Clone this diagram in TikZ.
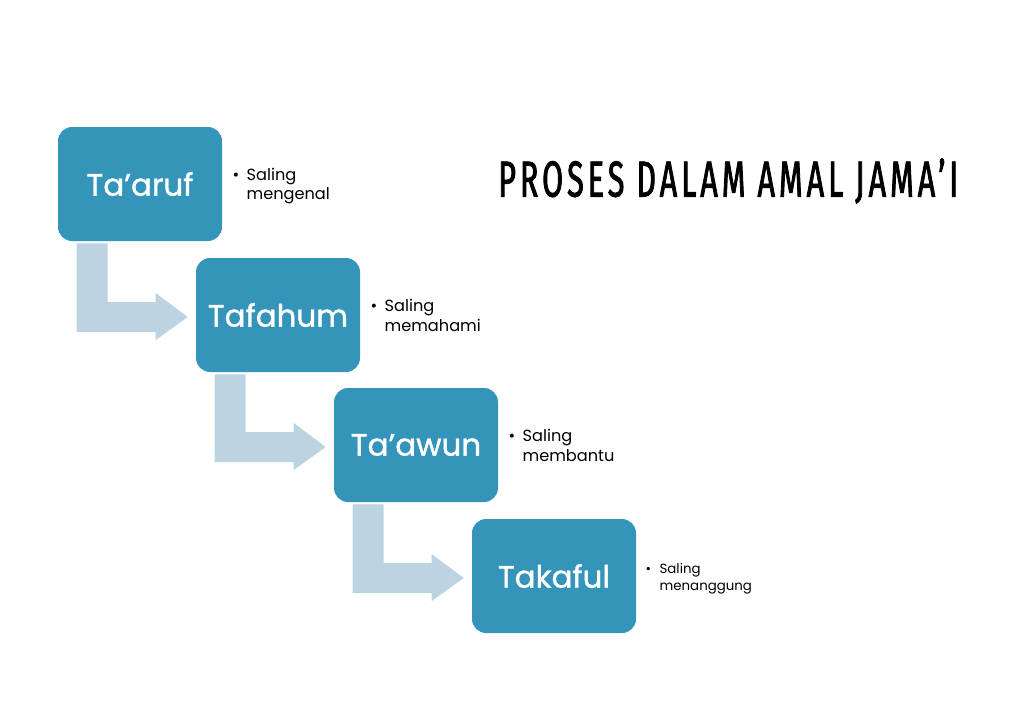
\documentclass[tikz,border=0pt]{standalone}
\usepackage{fontspec}
\setmainfont{Poppins}
\newfontfamily\boxfont[FakeBold=1.2]{Poppins}
\newfontfamily\titlefont[FakeStretch=0.6,LetterSpace=8,FakeBold=1.6]{Fira Sans}
\usetikzlibrary{calc}
\definecolor{StepBlue}{HTML}{3494BA}
\definecolor{FlowPale}{HTML}{BCD4E1}

\begin{document}
\begin{tikzpicture}[
    x=0.025cm, y=-0.025cm,
    stepbox/.style={fill=StepBlue, rounded corners=10pt, minimum width=164*0.025cm,
                    minimum height=114*0.025cm, inner sep=0pt, text=white,
                    font=\boxfont\fontsize{22}{26}\selectfont},
    notetext/.style={anchor=north west, align=left, inner sep=0pt,
                     font=\fontsize{11.5}{14}\selectfont},
    flowarrow/.style={fill=FlowPale}
]
    \useasboundingbox (0,0) rectangle (1024,724);

    \node[stepbox] (taaruf) at (140,184) {Ta’aruf};
    \node[stepbox] (tafahum) at (278,315) {Tafahum};
    \node[stepbox] (taawun) at (416,445) {Ta’awun};
    \node[stepbox] (takaful) at (554,576) {Takaful};

    % bent arrows between the steps
    \foreach \a/\b in {taaruf/tafahum, tafahum/taawun, taawun/takaful}
        \fill[flowarrow] ($(\a.south west)+(19,2)$) -- ($(\a.south west)+(50,2)$)
            |- ($(\b.west)+(-40,-13)$) -- ($(\b.west)+(-40,-22)$)
            -- ($(\b.west)+(-8,2)$) -- ($(\b.west)+(-40,25)$)
            -- ($(\b.west)+(-40,17)$) -| ($(\a.south west)+(19,2)$) -- cycle;

    \node[notetext] (mengenal) at ($(taaruf.north east)+(10,41)$)
        {\makebox[10pt][l]{•}Saling\\\hspace*{10pt}mengenal};
    \node[notetext] (memahami) at ($(tafahum.north east)+(10,41)$)
        {\makebox[10pt][l]{•}Saling\\\hspace*{10pt}memahami};
    \node[notetext] (membantu) at ($(taawun.north east)+(10,41)$)
        {\makebox[10pt][l]{•}Saling\\\hspace*{10pt}membantu};
    \node[notetext, font=\fontsize{9.5}{12}\selectfont] (menanggung)
        at ($(takaful.north east)+(9,44)$)
        {\makebox[10pt][l]{•}Saling\\\hspace*{10pt}menanggung};

    \node[anchor=west, inner sep=0pt, font=\titlefont\fontsize{36}{40}\selectfont]
        (judul) at (498,181) {PROSES DALAM AMAL JAMA’I};
\end{tikzpicture}
\end{document}
